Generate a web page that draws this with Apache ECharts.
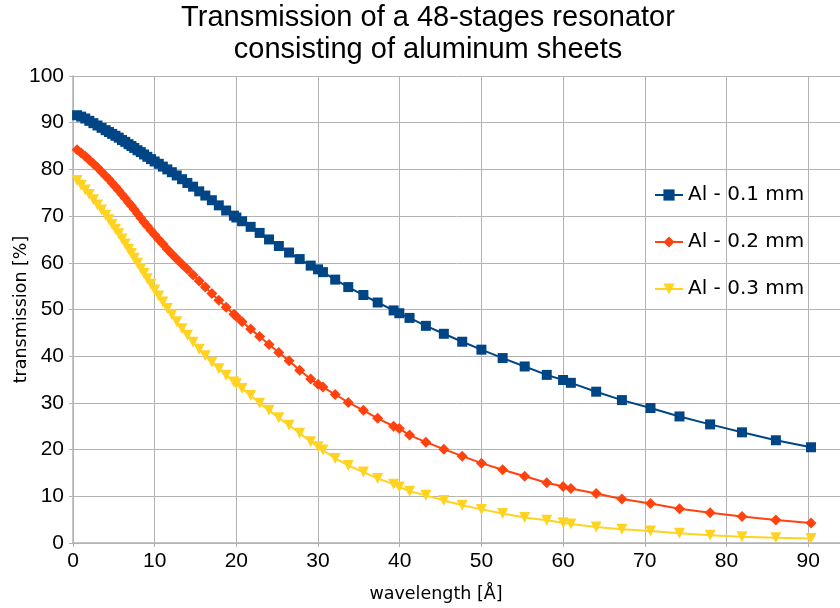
<!DOCTYPE html>
<html>
<head>
<meta charset="utf-8">
<script src="https://cdn.jsdelivr.net/npm/echarts@6/dist/echarts.min.js"></script>
<style>html,body{margin:0;padding:0;background:#fff}#c{width:840px;height:608px}</style>
</head>
<body>
<div id="c"></div>
<script>
const wavelength = [0.5,1.0,1.5,2.0,2.5,3.0,3.5,4.0,4.4,4.8,5.2,5.6,6.0,6.4,6.8,7.15,7.5,7.9,8.3,8.7,9.1,9.55,10.0,10.5,11.0,11.55,12.1,12.7,13.35,14.0,14.7,15.45,16.2,17.0,17.85,18.75,19.7,20.0,20.7,21.75,22.85,24.0,25.2,26.45,27.75,29.1,30.0,30.6,32.1,33.7,35.55,37.3,39.25,39.95,41.2,43.2,45.4,47.65,50.0,52.6,55.3,58.0,60.0,60.95,64.05,67.2,70.7,74.25,78.0,81.9,86.05,90.35];
const al01 = [91.6,91.3,90.9,90.4,89.9,89.4,88.9,88.4,88.0,87.6,87.2,86.8,86.3,85.9,85.4,85.0,84.6,84.1,83.7,83.2,82.7,82.2,81.7,81.2,80.6,80.0,79.4,78.7,77.9,77.1,76.3,75.3,74.4,73.4,72.3,71.2,70.1,69.7,68.9,67.7,66.4,65.0,63.6,62.2,60.8,59.4,58.6,58.0,56.4,54.8,53.1,51.5,49.8,49.2,48.2,46.5,44.8,43.1,41.4,39.6,37.8,36.0,34.9,34.3,32.4,30.6,28.9,27.1,25.4,23.7,22.0,20.5];
const al02 = [84.2,83.5,82.8,82.0,81.2,80.4,79.5,78.6,77.9,77.1,76.3,75.5,74.6,73.8,72.9,72.2,71.4,70.5,69.6,68.7,67.9,66.9,66.0,65.0,64.0,62.9,61.9,60.8,59.7,58.6,57.4,56.1,54.8,53.4,52.0,50.5,49.0,48.5,47.4,45.8,44.2,42.5,40.8,39.0,37.0,35.1,34.0,33.4,31.8,30.1,28.4,26.7,25.0,24.5,23.1,21.6,20.1,18.6,17.1,15.7,14.3,12.9,12.1,11.65,10.6,9.4,8.45,7.35,6.5,5.65,4.9,4.3];
const al03 = [77.6,76.6,75.6,74.6,73.5,72.4,71.3,70.2,69.2,68.2,67.2,66.2,65.1,64.0,62.9,62.0,61.0,59.9,58.8,57.7,56.6,55.4,54.2,52.9,51.6,50.2,48.9,47.4,45.9,44.5,43.0,41.5,40.1,38.7,37.3,35.9,34.5,34.1,33.1,31.6,29.9,28.4,26.8,25.2,23.5,21.7,20.6,19.9,18.1,16.6,15.2,13.8,12.6,12.0,11.1,10.2,9.1,8.1,7.2,6.3,5.45,4.85,4.35,4.05,3.45,2.95,2.55,2.1,1.65,1.35,1.15,0.95];
const seriesNames = ['Al - 0.1 mm','Al - 0.2 mm','Al - 0.3 mm'];
const titleText = 'Transmission of a 48-stages resonator\nconsisting of aluminum sheets';
const xName = 'wavelength [Å]';
const yName = 'transmission [%]';

const SANS = 'Liberation Sans';
const DV = 'DejaVu Sans';
const pairs = arr => wavelength.map((x, i) => [x, arr[i]]);
const chart = echarts.init(document.getElementById('c'), null, {renderer: 'canvas'});
const mk = (name, data, color, symbol, size, rot) => ({
  name, type: 'line', data: pairs(data), color,
  symbol, symbolSize: size, symbolRotate: rot || 0,
  showSymbol: true, animation: false,
  lineStyle: {color, width: 2},
  itemStyle: {color}
});
chart.setOption({
  animation: false,
  backgroundColor: '#fff',
  title: {
    text: titleText, left: 428, textAlign: 'center', top: 0, padding: [2, 0, 0, 0],
    textStyle: {fontFamily: SANS, fontSize: 29, fontWeight: 'normal', color: '#000', lineHeight: 32}
  },
  legend: {
    orient: 'vertical', left: 649, top: 180, itemGap: 27, itemWidth: 28, itemHeight: 14,
    textStyle: {fontFamily: DV, fontSize: 20, color: '#000'},
    data: seriesNames
  },
  grid: {left: 73, right: 0, top: 76, bottom: 65, containLabel: false, outerBoundsMode: 'none'},
  xAxis: {
    type: 'value', min: 0, max: 93.9, interval: 10,
    name: xName, nameLocation: 'middle', nameGap: 42, nameMoveOverlap: false,
    nameTextStyle: {fontFamily: DV, fontSize: 17.5, color: '#000', padding: [0, 41, 0, 0]},
    axisLine: {show: true, lineStyle: {color: '#b3b3b3', width: 1.5}},
    axisTick: {show: true, length: 4, lineStyle: {color: '#b3b3b3'}},
    axisLabel: {fontFamily: SANS, fontSize: 21, color: '#000', margin: 8, showMaxLabel: false},
    splitLine: {show: true, lineStyle: {color: '#b3b3b3', width: 1}}
  },
  yAxis: {
    type: 'value', min: 0, max: 100, interval: 10,
    name: yName, nameLocation: 'middle', nameGap: 43, nameMoveOverlap: false,
    nameTextStyle: {fontFamily: DV, fontSize: 17.5, color: '#000'},
    axisLine: {show: true, lineStyle: {color: '#b3b3b3', width: 1.5}},
    axisTick: {show: true, length: 4, lineStyle: {color: '#b3b3b3'}},
    axisLabel: {fontFamily: SANS, fontSize: 21, color: '#000', margin: 9},
    splitLine: {show: true, lineStyle: {color: '#b3b3b3', width: 1}}
  },
  series: [
    mk(seriesNames[0], al01, '#004586', 'rect', 10),
    mk(seriesNames[1], al02, '#ff420e', 'diamond', 11),
    mk(seriesNames[2], al03, '#ffd320', 'triangle', 11, 180)
  ]
});
</script>
</body>
</html>
